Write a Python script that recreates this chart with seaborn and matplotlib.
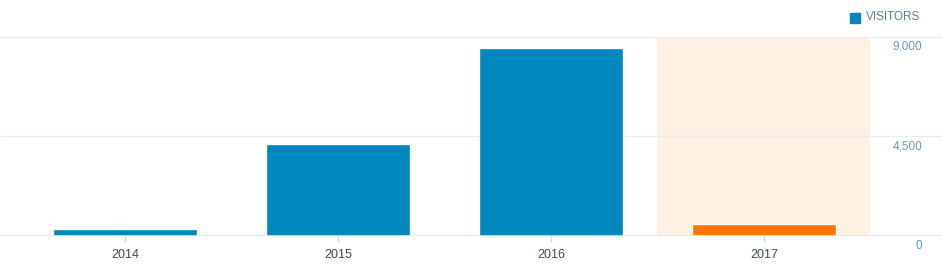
import matplotlib
matplotlib.use("Agg")
import matplotlib.pyplot as plt
import matplotlib.transforms as mtransforms
import seaborn as sns
import pandas as pd

years = ["2014", "2015", "2016", "2017"]
visitors = [300, 4140, 8470, 540]
bar_colors = ["#0087be", "#0087be", "#0087be", "#ff7600"]
y_ticks = [0, 4500, 9000]
y_tick_labels = ["0", "4,500", "9,000"]
legend_label = "VISITORS"
highlight_index = 3

sns.set_theme(style="white")
plt.rcParams["font.family"] = ["Liberation Sans", "DejaVu Sans"]

W, H = 942, 268
fig = plt.figure(figsize=(W / 100, H / 100), dpi=100)
ax_bottom = 236
ax_top = 36.5
ax = fig.add_axes([0, (H - ax_bottom) / H, 1, (ax_bottom - ax_top) / H])

df = pd.DataFrame({"year": years, "visitors": visitors})
sns.barplot(data=df, x="year", y="visitors", hue="year", palette=bar_colors,
            width=0.68, legend=False, ax=ax, saturation=1, zorder=3)

unit = 213.0
center0 = 125.0
ax.set_xlim(-center0 / unit, (W - center0) / unit)
ax.set_ylim(0, 9000)

# highlighted period band
ax.axvspan(highlight_index - 0.5, highlight_index + 0.5, ymin=0, ymax=0.995,
           color="#fef0e3", zorder=1, lw=0)

# gridlines
for v in y_ticks[1:]:
    ax.axhline(v, color="#e9edf0", lw=1, zorder=2)
ax.axhline(0, color="#dfe6eb", lw=1.2, zorder=4)

for s in ax.spines.values():
    s.set_visible(False)

ax.set_xlabel("")
ax.set_ylabel("")
ax.set_yticks([])
ax.tick_params(axis="x", length=4, width=1, color="#cfd9e0", pad=5,
               labelsize=9, labelcolor="#3d4b5a", bottom=True)

trans = mtransforms.blended_transform_factory(ax.transAxes, ax.transData)
offset = mtransforms.ScaledTranslation(-20 / 100, -4 / 100, fig.dpi_scale_trans)
for v, lab in zip(y_ticks, y_tick_labels):
    ax.text(1, v, lab, transform=trans + offset, ha="right", va="top",
            fontsize=8.5, color="#6b95bd", zorder=5)

# legend
fig.patches.append(plt.Rectangle((850 / W, 1 - 22.5 / H), 10 / W, 10 / H,
                                 transform=fig.transFigure, color="#0087be"))
fig.text(866 / W, 1 - 17.5 / H, legend_label, ha="left", va="center",
         fontsize=8.5, color="#5d7c96", fontweight="normal")

fig.savefig("out.png", dpi=100)
